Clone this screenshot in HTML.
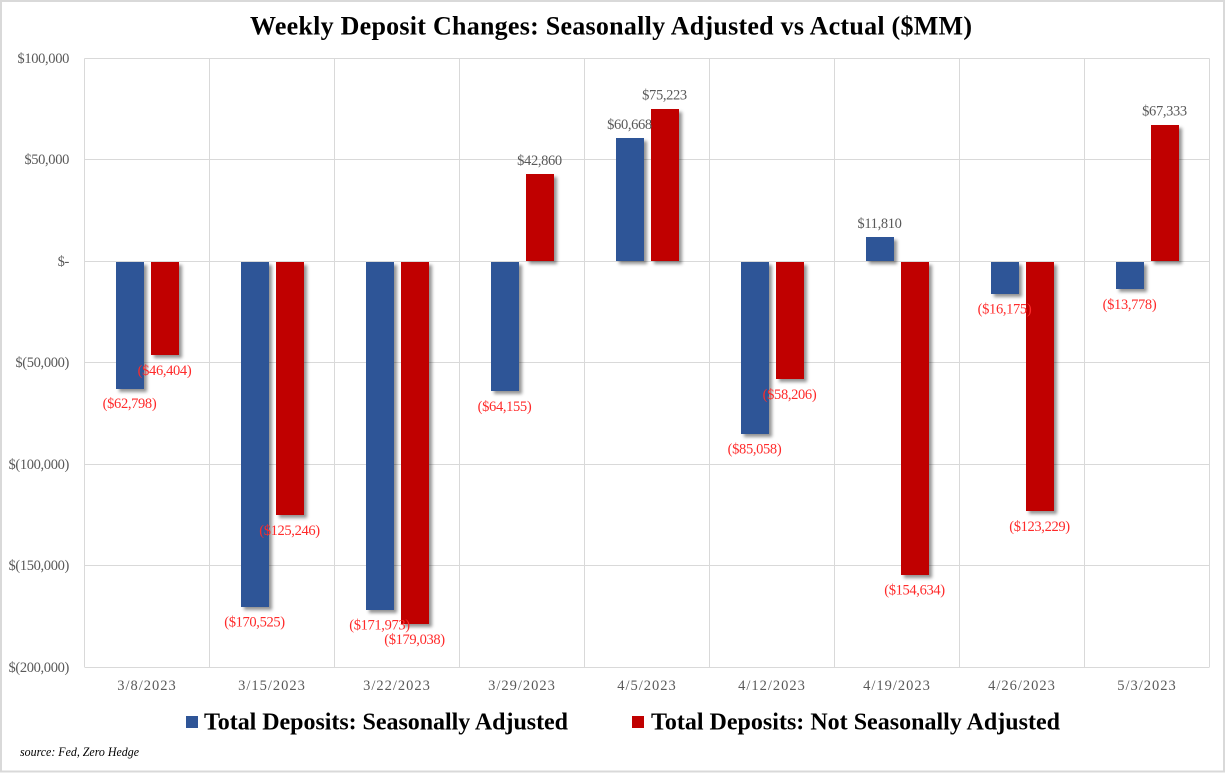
<!DOCTYPE html>
<html lang="en">
<head>
<meta charset="utf-8">
<title>Weekly Deposit Changes</title>
<style>
html,body{margin:0;padding:0;background:#fff;}
body{width:1225px;height:773px;overflow:hidden;}
svg{display:block;font-family:"Liberation Serif",serif;}
</style>
</head>
<body>
<svg id="chart" xmlns="http://www.w3.org/2000/svg" width="1225" height="773" viewBox="0 0 1225 773">
  <defs>
    <filter id="bar-shadow" x="-40%" y="-40%" width="200%" height="200%">
      <feDropShadow dx="3" dy="3" stdDeviation="1.6" flood-color="#000" flood-opacity="0.42"/>
    </filter>
  </defs>
  <rect x="1" y="1" width="1223" height="770.5" fill="#fff" stroke="#d9d9d9" stroke-width="2"/>
  <text x="611" y="34.5" text-anchor="middle" font-size="26" font-weight="bold" fill="#000" textLength="722" lengthAdjust="spacing">Weekly Deposit Changes: Seasonally Adjusted vs Actual ($MM)</text>
  <g id="grid"></g>
  <g id="y-axis"></g>
  <g id="x-axis"></g>
  <g id="bars"></g>
  <g id="labels"></g>
  <g>
    <g>
      <rect x="186" y="716" width="12" height="12" fill="#2f5597"/>
      <text x="204" y="729.5" font-size="24" font-weight="bold" fill="#000" textLength="364" lengthAdjust="spacing">Total Deposits: Seasonally Adjusted</text>
    </g>
    <g>
      <rect x="632" y="716" width="12" height="12" fill="#c00000"/>
      <text x="651" y="729.5" font-size="24" font-weight="bold" fill="#000" textLength="409" lengthAdjust="spacing">Total Deposits: Not Seasonally Adjusted</text>
    </g>
  </g>
  <text x="20" y="756" font-size="13" font-style="italic" fill="#000" textLength="119" lengthAdjust="spacingAndGlyphs">source: Fed, Zero Hedge</text>
</svg>
<script>
const categories = ['3/8/2023','3/15/2023','3/22/2023','3/29/2023','4/5/2023','4/12/2023','4/19/2023','4/26/2023','5/3/2023'];
const seasonallyAdjusted = [-62798,-170525,-171973,-64155,60668,-85058,11810,-16175,-13778];
const notSeasonallyAdjusted = [-46404,-125246,-179038,42860,75223,-58206,-154634,-123229,67333];
const yTickValues = [100000,50000,0,-50000,-100000,-150000,-200000];

const NS = 'http://www.w3.org/2000/svg';
const plot = {left:84.5, right:1209.5, top:58.5, bottom:667};
const yMax = 100000, yMin = -200000;
const barWidth = 28, barOffset = 3.5;

function yScale(v){ return plot.top + (yMax - v) / (yMax - yMin) * (plot.bottom - plot.top); }
function bandWidth(){ return (plot.right - plot.left) / categories.length; }
function xCenter(i){ return plot.left + bandWidth() * (i + 0.5); }
function money(v){ return Math.abs(v).toLocaleString('en-US'); }
function valueLabel(v){ return v < 0 ? '($' + money(v) + ')' : '$' + money(v); }
function tickLabel(v){ return v === 0 ? '$-' : v < 0 ? '$(' + money(v) + ')' : '$' + money(v); }
function make(tag, attrs, text){
  const el = document.createElementNS(NS, tag);
  for (const k in attrs) el.setAttribute(k, attrs[k]);
  if (text !== undefined) el.textContent = text;
  return el;
}

const grid = document.getElementById('grid');
const yAxis = document.getElementById('y-axis');
const xAxis = document.getElementById('x-axis');
const barsG = document.getElementById('bars');
const labelsG = document.getElementById('labels');

yTickValues.forEach(function(v){
  const y = Math.round(yScale(v) - 0.5) + 0.5;
  const line = make('line', {x1:plot.left, x2:plot.right, y1:y, y2:y, stroke:'#d9d9d9', 'stroke-width':1});
  
  
  grid.appendChild(line);
  const t = make('text', {x:69, y:y + 4.5, 'text-anchor':'end', 'font-size':14.5, 'letter-spacing':-0.35, fill:'#595959'}, tickLabel(v));
  
  
  yAxis.appendChild(t);
});

for (let i = 0; i <= categories.length; i++){
  const x = Math.round(plot.left + bandWidth() * i - 0.5) + 0.5;
  const line = make('line', {x1:x, x2:x, y1:plot.top, y2:plot.bottom, stroke:'#d9d9d9', 'stroke-width':1});
  
  
  grid.appendChild(line);
}

categories.forEach(function(c, i){
  const t = make('text', {x:xCenter(i), y:690, 'text-anchor':'middle', 'font-size':14.5, 'letter-spacing':1, fill:'#595959'}, c);
  
  
  xAxis.appendChild(t);
});

function drawSeries(values, color, side, seriesName){
  values.forEach(function(v, i){
    const cx = xCenter(i) + side * (barOffset + barWidth / 2);
    const y0 = yScale(0), y1 = yScale(v);
    const top = v < 0 ? Math.ceil(y0) : Math.round(y1);
    const bottom = v < 0 ? Math.round(y1) : Math.floor(y0);
    const bar = make('rect', {x:Math.round(cx - barWidth / 2), y:top, width:barWidth, height:bottom - top, fill:color, filter:'url(#bar-shadow)'});
    
    
    barsG.appendChild(bar);
    const ly = v < 0 ? y1 + 19.5 : y1 - 9.5;
    const t = make('text', {x:cx, y:ly, 'text-anchor':'middle', 'font-size':14.5, 'letter-spacing':-0.35, fill:v < 0 ? '#ff2a2a' : '#595959'}, valueLabel(v));
    
    
    labelsG.appendChild(t);
  });
}
drawSeries(seasonallyAdjusted, '#2f5597', -1, 'seasonally-adjusted');
drawSeries(notSeasonallyAdjusted, '#c00000', 1, 'not-seasonally-adjusted');
</script>
</body>
</html>
